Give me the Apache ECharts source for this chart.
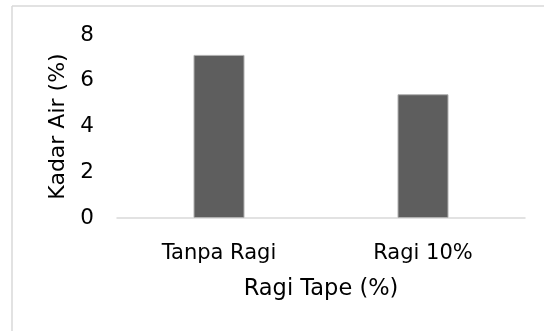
<!DOCTYPE html>
<html>
<head>
<meta charset="utf-8">
<script src="https://cdn.jsdelivr.net/npm/echarts@6/dist/echarts.min.js"></script>
<style>
  html, body { margin: 0; padding: 0; background: #ffffff; }
  #chart { width: 544px; height: 331px; }
</style>
</head>
<body>
<div id="chart"></div>
<script>
// Water content by yeast treatment
const categories = ['Tanpa Ragi', 'Ragi 10%'];
const kadarAir = [7.13, 5.41];
const yTicks = [0, 2, 4, 6, 8];

const FONT = 'DejaVu Sans';
const chart = echarts.init(document.getElementById('chart'), null, { renderer: 'canvas' });

chart.setOption({
  animation: false,
  backgroundColor: '#ffffff',
  graphic: [
    { type: 'line', shape: { x1: 12, y1: 6, x2: 12, y2: 331 }, style: { stroke: '#d9d9d9', lineWidth: 1.5 } },
    { type: 'line', shape: { x1: 12, y1: 6, x2: 544, y2: 6 }, style: { stroke: '#d9d9d9', lineWidth: 1.5 } }
  ],
  grid: { left: 117, right: 19, top: 35, bottom: 113 },
  xAxis: {
    type: 'category',
    data: categories,
    name: 'Ragi Tape (%)',
    nameLocation: 'middle',
    nameGap: 60,
    nameTextStyle: { fontFamily: FONT, fontSize: 22.5, color: '#000000' },
    axisLine: { show: true, lineStyle: { color: '#d9d9d9', width: 1.5 } },
    axisTick: { show: false },
    axisLabel: { fontFamily: FONT, fontSize: 21, color: '#000000', margin: 25 }
  },
  yAxis: {
    type: 'value',
    min: yTicks[0],
    max: yTicks[yTicks.length - 1],
    interval: yTicks[1] - yTicks[0],
    name: 'Kadar Air (%)',
    nameLocation: 'middle',
    nameGap: 45,
    nameTextStyle: { fontFamily: FONT, fontSize: 22, color: '#000000' },
    axisLine: { show: false },
    axisTick: { show: false },
    splitLine: { show: false },
    axisLabel: { fontFamily: FONT, fontSize: 21.5, color: '#000000', margin: 23 }
  },
  series: [{
    type: 'bar',
    data: kadarAir,
    barWidth: '25%',
    itemStyle: { color: '#5e5e5e', borderColor: '#b0b0b0', borderWidth: 1 }
  }]
});
</script>
</body>
</html>
